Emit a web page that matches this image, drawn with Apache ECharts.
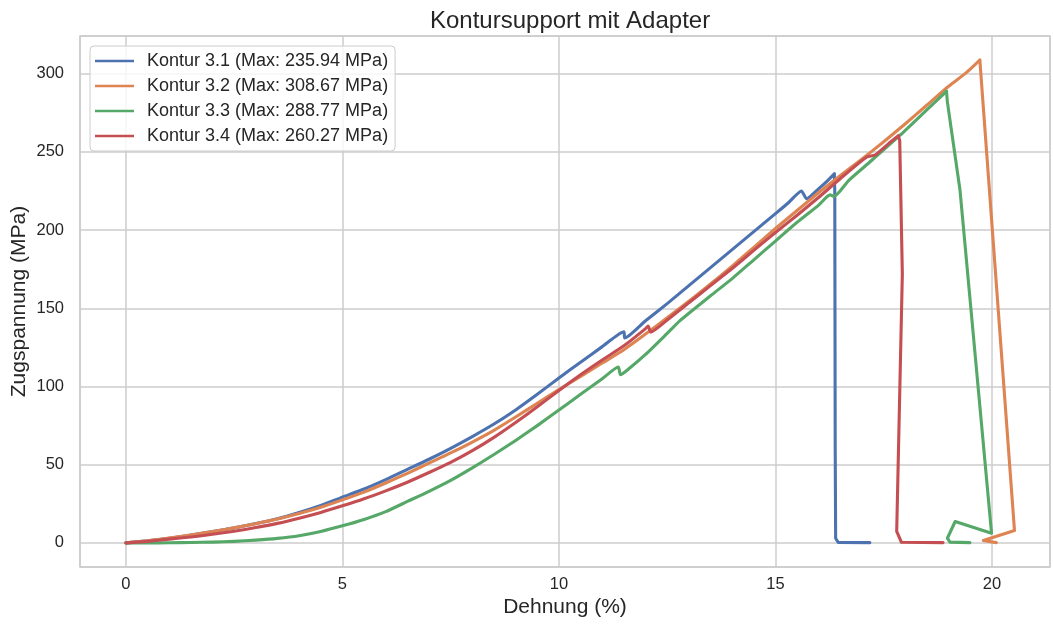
<!DOCTYPE html>
<html>
<head>
<meta charset="utf-8">
<title>Kontursupport mit Adapter</title>
<script src="https://cdn.jsdelivr.net/npm/echarts@6/dist/echarts.min.js"></script>
<style>
  html, body { margin: 0; padding: 0; background: #ffffff; }
  #chart { width: 1053px; height: 626px; }
</style>
</head>
<body>
<div id="chart"></div>
<script>
// Stress-strain curves, Kontursupport mit Adapter
const seriesNames = ['Kontur 3.1', 'Kontur 3.2', 'Kontur 3.3', 'Kontur 3.4'];
const maxStress = [235.94, 308.67, 288.77, 260.27];

// Dehnung (%) / Zugspannung (MPa), Kontur 3.1
const strain31 = [0, 0.5, 1, 1.5, 2, 2.5, 3, 3.5, 4, 4.5, 5, 5.5, 6, 6.5, 7, 7.5, 8, 8.5, 9, 9.5, 10, 10.5, 11, 11.5,
  11.52, 12, 12.5, 13, 13.5, 14, 14.5, 15, 15.3, 15.6, 15.72, 16, 16.2, 16.36, 16.37, 16.38, 16.39, 16.45, 17.18];
const stress31 = [0, 1.3, 3, 5, 7.2, 9.6, 12.4, 15.5, 19.5, 24, 29.3, 34.5, 40.5, 47, 53.5, 60.5, 68, 76, 85, 95, 105.5, 115.5, 125.5, 135,
  131, 142, 153, 164.5, 176, 187.5, 199, 210.5, 217.5, 225, 220, 226.5, 231.5, 235.94, 225, 60, 3, 0.3, 0.2];

// Kontur 3.2
const strain32 = [0, 0.5, 1, 1.5, 2, 2.5, 3, 3.5, 4, 4.5, 5, 5.5, 6, 6.5, 7, 7.5, 8, 8.5, 9, 9.5, 10, 10.5, 11, 11.5,
  12, 12.5, 13, 13.5, 14, 14.5, 15, 15.5, 16, 16.5, 17, 17.5, 18, 18.5, 19, 19.4, 19.72, 20.52, 19.8, 19.76, 20.1];
const stress32 = [0, 1.4, 3.1, 5, 7.2, 9.6, 12.3, 15.3, 18.8, 22.8, 27.5, 32.5, 38.3, 44.5, 51, 57.5, 64.5, 72, 80.5, 89.3, 98, 106.5, 115, 123.5,
  133.5, 144, 154.5, 165.5, 177, 189, 201, 212.5, 224, 235, 245.5, 256.5, 268, 280, 292, 300.5, 308.67, 7.9, 1.5, 0.4, 0.2];

// Kontur 3.3
const strain33 = [0, 0.5, 1, 1.5, 2, 2.5, 3, 3.5, 4, 4.5, 5, 5.5, 6, 6.5, 7, 7.5, 8, 8.5, 9, 9.5, 10, 10.5, 11, 11.37,
  11.42, 11.6, 12, 12.5, 12.79, 13.5, 14, 14.5, 15, 15.5, 16, 16.26, 16.35, 16.7, 17.2, 17.87, 18.5, 18.95, 18.97,
  19.26, 19.99, 19.15, 18.97, 19.03, 19.49];
const stress33 = [0, 0, 0.1, 0.3, 0.5, 1, 1.8, 2.9, 4.6, 7.3, 10.9, 15, 20, 26.5, 33, 40, 48, 56.5, 65.5, 75, 85, 95, 105, 112.5,
  107.5, 111, 120.5, 134, 142, 158, 169, 181, 193, 205, 216, 222.5, 221.5, 232, 244, 260.5, 277, 288.77, 282,
  226, 6.2, 13.7, 3, 0.5, 0.2];

// Kontur 3.4
const strain34 = [0, 0.5, 1, 1.5, 2, 2.5, 3, 3.5, 4, 4.5, 5, 5.5, 6, 6.5, 7, 7.5, 8, 8.5, 9, 9.5, 10, 10.5, 11, 11.5,
  12, 12.06, 12.12, 12.5, 13, 13.5, 14, 14.5, 15, 15.5, 16, 16.5, 17.1, 17.3, 17.6, 17.84, 17.87, 17.93, 17.8, 17.91, 18.87];
const stress34 = [0, 1, 2.4, 3.8, 5.5, 7.5, 9.8, 12.5, 15.8, 19.5, 23.7, 28.2, 33.3, 38.8, 45, 51.5, 59, 67.5, 77, 87, 97.5, 107.5, 117, 126,
  137, 138.7, 134.8, 142.5, 153.5, 164.5, 175.5, 187, 198.5, 209.5, 221, 233, 246.6, 248, 255, 260.27, 257, 172, 7.3, 0.4, 0.2];

const xTicks = [0, 5, 10, 15, 20];
const yTicks = [0, 50, 100, 150, 200, 250, 300];

const palette = ['#4C72B0', '#DD8452', '#55A868', '#C44E52'];
const strains = [strain31, strain32, strain33, strain34];
const stresses = [stress31, stress32, stress33, stress34];

const textColor = '#262626';
const gridColor = '#cccccc';
const fontFamily = '"Liberation Sans", Arial, sans-serif';

// The loading branch (up to the maximum) is drawn slightly smoothed,
// the fracture branch after the maximum as straight segments.
const series = [];
seriesNames.map(function (name, i) {
  const pts = strains[i].map(function (x, k) { return [x, stresses[i][k]]; });
  const peak = stresses[i].indexOf(maxStress[i]);
  const label = name + ' (Max: ' + maxStress[i].toFixed(2) + ' MPa)';
  const base = {
    name: label,
    type: 'line',
    symbol: 'none',
    lineStyle: { color: palette[i], width: 3.1, join: 'round', cap: 'round' },
    itemStyle: { color: palette[i] },
    z: 2 + i
  };
  series.push(Object.assign({}, base, { data: pts.slice(0, peak + 1), smooth: 0.2 }));
  series.push(Object.assign({}, base, { data: pts.slice(peak), smooth: false }));
});

const chart = echarts.init(document.getElementById('chart'), null, { renderer: 'canvas' });
chart.setOption({
  backgroundColor: '#ffffff',
  animation: false,
  textStyle: { fontFamily: fontFamily },
  title: {
    text: 'Kontursupport mit Adapter',
    left: 425,
    top: 4,
    textStyle: { fontSize: 24, fontWeight: 'normal', color: textColor, fontFamily: fontFamily }
  },
  legend: {
    orient: 'vertical',
    left: 90,
    top: 46,
    padding: [6, 7, 6, 5],
    icon: 'rect',
    itemWidth: 39,
    itemHeight: 2.5,
    itemGap: 7,
    backgroundColor: 'rgba(255,255,255,0.8)',
    borderColor: gridColor,
    borderWidth: 1,
    borderRadius: 4,
    data: seriesNames.map(function (name, i) { return name + ' (Max: ' + maxStress[i].toFixed(2) + ' MPa)'; }),
    textStyle: { fontSize: 18, color: textColor, fontFamily: fontFamily, padding: [0, 0, 0, 8], lineHeight: 18 }
  },
  grid: {
    left: 80, right: 3, top: 36, bottom: 59,
    outerBoundsMode: 'none',
    containLabel: false,
    show: true,
    borderColor: gridColor,
    borderWidth: 1.5,
    backgroundColor: 'transparent'
  },
  xAxis: {
    type: 'value',
    min: -1.06,
    max: 21.34,
    splitNumber: xTicks.length,
    name: 'Dehnung (%)',
    nameLocation: 'middle',
    nameGap: 30,
    nameMoveOverlap: false,
    nameTextStyle: { fontSize: 21, color: textColor, fontFamily: fontFamily, verticalAlign: 'top' },
    axisLine: { show: false },
    axisTick: { show: false },
    axisLabel: {
      showMinLabel: false, showMaxLabel: false,
      fontSize: 16.5, color: textColor, margin: 9, fontFamily: fontFamily,
      formatter: function (v) { return xTicks.indexOf(v) >= 0 ? String(v) : ''; }
    },
    splitLine: { show: true, lineStyle: { color: gridColor, width: 1.5 } }
  },
  yAxis: {
    type: 'value',
    min: -15.4,
    max: 324.1,
    splitNumber: 5,
    name: 'Zugspannung (MPa)',
    nameLocation: 'middle',
    nameGap: 50,
    nameMoveOverlap: false,
    nameTextStyle: { fontSize: 21, color: textColor, fontFamily: fontFamily },
    axisLine: { show: false },
    axisTick: { show: false },
    axisLabel: {
      showMinLabel: false, showMaxLabel: false,
      fontSize: 16.5, color: textColor, margin: 16, fontFamily: fontFamily,
      formatter: function (v) { return yTicks.indexOf(v) >= 0 ? String(v) : ''; }
    },
    splitLine: { show: true, lineStyle: { color: gridColor, width: 1.5 } }
  },
  series: series
});
</script>
</body>
</html>
